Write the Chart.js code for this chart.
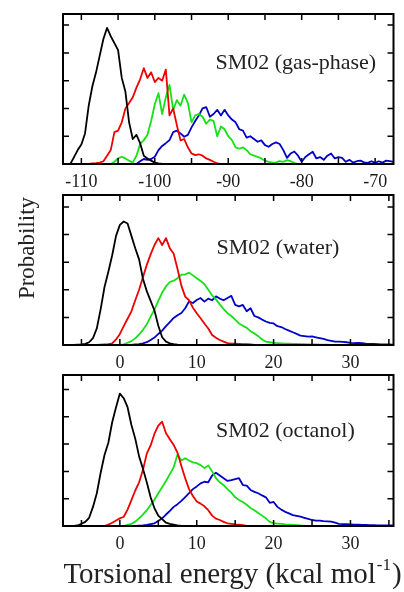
<!DOCTYPE html>
<html><head><meta charset="utf-8">
<script src="https://cdn.jsdelivr.net/npm/chart.js@4.4.1/dist/chart.umd.min.js"></script>
<style>
html,body{margin:0;padding:0;background:#fff;}
#wrap{position:relative;width:404px;height:592px;overflow:hidden;background:#fff;}
canvas{position:absolute;left:0;top:0;}
</style></head><body>
<div id="wrap">
<canvas id="c1" width="404" height="592"></canvas>
<canvas id="c2" width="404" height="592"></canvas>
<canvas id="c3" width="404" height="592"></canvas>
</div>
<script>
const N = null;
// ---------- Panel 1: SM02 (gas-phase) ----------
const gasEnergy = [
 -112,-111.5,-111,-110.5,-110,-109.5,-109,-108.5,-108,-107.5,
 -107,-106.5,-106,-105.5,-105,-104.5,-104,-103.5,-103,-102.5,
 -102,-101.5,-101,-100.5,-100,-99.5,-99,-98.5,-98,-97.5,
 -97,-96.5,-96,-95.5,-95,-94.5,-94,-93.5,-93,-92.5,
 -92,-91.5,-91,-90.5,-90,-89.5,-89,-88.5,-88,-87.5,
 -87,-86.5,-86,-85.5,-85,-84.5,-84,-83.5,-83,-82.5,
 -82,-81.5,-81,-80.5,-80,-79.5,-79,-78.5,-78,-77.5,
 -77,-76.5,-76,-75.5,-75,-74.5,-74,-73.5,-73,-72.5,
 -72,-71.5,-71,-70.5,-70,-69.5,-69,-68.5,-68,-67.5];
const gasBlack = [
 N,0,0.25,0.5,0.7,1.1,2.1,2.8,3.3,3.9,
 4.5,4.9,4.6,4.35,4.1,3.1,2.6,1.5,0.9,1.05,
 0.75,0.3,0.2,0.12,0.05,0.02,0,N,N,N,
 N,N,N,N,N,N,N,N,N,N,
 N,N,N,N,N,N,N,N,N,N,
 N,N,N,N,N,N,N,N,N,N,
 N,N,N,N,N,N,N,N,N,N,
 N,N,N,N,N,N,N,N,N,N,
 N,N,N,N,N,N,N,N,N,N];
const gasRed = [
 N,N,N,N,N,0,0,0.02,0.03,0.05,
 0.1,0.3,0.5,1.15,1.2,1.5,2.0,2.2,2.4,2.75,
 3.05,3.45,3.1,3.3,2.95,3.1,3.0,3.4,1.75,2.0,
 1.4,0.85,0.9,0.6,0.38,0.32,0.35,0.3,0.2,0.15,
 0.08,0.02,0,N,N,N,N,N,N,N,
 N,N,N,N,N,N,N,N,N,N,
 N,N,N,N,N,N,N,N,N,N,
 N,N,N,N,N,N,N,N,N,N,
 N,N,N,N,N,N,N,N,N,N];
const gasGreen = [
 N,N,N,N,N,N,N,N,N,N,
 N,N,0,0.08,0.2,0.26,0.2,0.12,0.05,0.3,
 0.72,0.86,1.05,1.55,2.15,2.55,1.8,2.4,2.85,1.95,
 2.3,2.1,2.5,2.2,1.5,1.75,1.8,1.7,1.45,1.6,
 1.55,1.0,1.35,1.25,1.0,0.86,0.6,0.55,0.6,0.5,
 0.35,0.3,0.26,0.2,0.12,0.08,0.05,0.06,0.1,0.08,
 0.14,0.1,0.04,0,N,N,N,N,N,N,
 N,N,N,N,N,N,N,N,N,N,
 N,N,N,N,N,N,N,N,N,N];
const gasBlue = [
 N,N,N,N,N,N,N,N,N,N,
 N,N,N,N,N,N,N,N,N,0,
 0.1,0.18,0.15,0.18,0.26,0.5,0.65,0.75,0.86,1.15,
 1.2,1.1,0.98,1.05,1.32,1.55,1.75,2.0,2.05,1.7,
 1.8,1.95,1.75,1.95,1.75,1.6,1.5,1.25,1.2,0.95,
 1.0,0.9,0.8,0.85,0.68,0.62,0.72,0.78,0.72,0.5,
 0.22,0.38,0.45,0.3,0.08,0.25,0.35,0.44,0.2,0.25,
 0.15,0.3,0.38,0.2,0.25,0.22,0.08,0.15,0.05,0.1,
 0.12,0.06,0.04,0.1,0.04,0.1,0.05,0.12,0.1,0.08];

// ---------- Panels 2 and 3: SM02 (water), SM02 (octanol) ----------
const solvEnergy = [
 -7,-6.5,-6,-5.5,-5,-4.5,-4,-3.5,-3,-2.5,
 -2,-1.5,-1,-0.5,0,0.5,1,1.5,2,2.5,
 3,3.5,4,4.5,5,5.5,6,6.5,7,7.5,
 8,8.5,9,9.5,10,10.5,11,11.5,12,12.5,
 13,13.5,14,14.5,15,15.5,16,16.5,17,17.5,
 18,18.5,19,19.5,20,20.5,21,21.5,22,22.5,
 23,23.5,24,24.5,25,25.5,26,26.5,27,27.5,
 28,28.5,29,29.5,30,30.5,31,31.5,32,32.5,
 33,33.5,34,34.5,35,35.5];
const waterBlack = [
 N,N,0,0.01,0.02,0.04,0.1,0.25,0.6,1.3,
 2.1,2.65,3.25,3.95,4.35,4.47,4.4,3.95,3.5,3.1,
 2.4,1.95,1.6,1.25,0.7,0.28,0.12,0.06,0.03,0.01,
 0,N,N,N,N,N,N,N,N,N,
 N,N,N,N,N,N,N,N,N,N,
 N,N,N,N,N,N,N,N,N,N,
 N,N,N,N,N,N,N,N,N,N,
 N,N,N,N,N,N,N,N,N,N,
 N,N,N,N,N,N];
const waterRed = [
 N,N,N,N,N,N,N,N,0,0.01,
 0.02,0.03,0.06,0.2,0.4,0.68,0.95,1.22,1.62,2.0,
 2.45,2.9,3.28,3.62,3.87,3.62,3.87,3.5,3.3,2.75,
 2.15,1.75,1.62,1.35,1.15,0.97,0.78,0.6,0.36,0.26,
 0.18,0.12,0.07,0.05,0.05,0.04,0.03,0.03,0.02,0,
 N,N,N,N,N,N,N,N,N,N,
 N,N,N,N,N,N,N,N,N,N,
 N,N,N,N,N,N,N,N,N,N,
 N,N,N,N,N,N];
const waterGreen = [
 N,N,N,N,N,N,N,N,N,N,
 N,N,N,N,0,0.02,0.08,0.14,0.24,0.38,
 0.55,0.75,1.03,1.28,1.6,1.9,2.12,2.28,2.33,2.42,
 2.55,2.55,2.62,2.52,2.42,2.32,2.2,2.0,1.8,1.65,
 1.47,1.3,1.15,1.05,0.92,0.78,0.7,0.62,0.5,0.42,
 0.32,0.2,0.12,0.1,0.08,0.07,0.06,0.05,0.05,0.04,
 0.04,0.03,0.03,0.02,0.02,0.02,0.01,0.01,0.01,0,
 N,N,N,N,N,N,N,N,N,N,
 N,N,N,N,N,N];
const waterBlue = [
 N,N,N,N,N,N,N,N,N,N,
 N,N,N,N,N,N,N,0,0.02,0.03,
 0.06,0.1,0.18,0.27,0.4,0.52,0.68,0.83,0.98,1.08,
 1.16,1.33,1.58,1.52,1.63,1.7,1.57,1.68,1.62,1.76,
 1.68,1.62,1.7,1.78,1.45,1.4,1.45,1.22,1.33,1.05,
 1.0,0.92,0.85,0.8,0.78,0.68,0.65,0.58,0.52,0.46,
 0.4,0.34,0.32,0.3,0.31,0.28,0.25,0.22,0.18,0.15,
 0.12,0.12,0.11,0.1,0.08,0.07,0.08,0.07,0.05,0.04,
 0.04,0.03,0.02,0.02,0.02,0.01];
const octBlack = [
 N,N,0,0.02,0.08,0.15,0.3,0.7,1.2,1.95,
 2.6,3.05,3.8,4.35,4.85,4.68,4.35,3.7,3.2,2.55,
 2.1,1.6,1.05,0.65,0.38,0.25,0.12,0.08,0.05,0.02,
 0,N,N,N,N,N,N,N,N,N,
 N,N,N,N,N,N,N,N,N,N,
 N,N,N,N,N,N,N,N,N,N,
 N,N,N,N,N,N,N,N,N,N,
 N,N,N,N,N,N,N,N,N,N,
 N,N,N,N,N,N];
const octRed = [
 N,N,N,N,N,N,N,N,N,N,
 0,0.05,0.12,0.2,0.28,0.34,0.6,0.95,1.3,1.6,
 2.05,2.65,2.95,3.38,3.68,3.82,3.4,3.18,2.97,2.68,
 2.2,1.75,1.35,1.1,0.9,0.82,0.72,0.58,0.38,0.27,
 0.22,0.15,0.1,0.08,0.06,0.05,0.03,0,N,N,
 N,N,N,N,N,N,N,N,N,N,
 N,N,N,N,N,N,N,N,N,N,
 N,N,N,N,N,N,N,N,N,N,
 N,N,N,N,N,N];
const octGreen = [
 N,N,N,N,N,N,N,N,N,N,
 N,N,N,N,N,0,0.04,0.08,0.16,0.28,
 0.42,0.58,0.77,0.96,1.2,1.42,1.65,1.9,2.15,2.62,
 2.4,2.48,2.4,2.33,2.3,2.23,2.12,2.22,2.0,1.75,
 1.6,1.5,1.35,1.22,1.05,0.95,0.88,0.78,0.66,0.58,
 0.48,0.38,0.28,0.15,0.1,0.09,0.08,0.06,0.05,0.04,
 0.03,0.02,0,N,N,N,N,N,N,N,
 N,N,N,N,N,N,N,N,N,N,
 N,N,N,N,N,N];
const octBlue = [
 N,N,N,N,N,N,N,N,N,N,
 N,N,N,N,N,N,N,N,0,0.01,
 0.02,0.04,0.07,0.1,0.18,0.28,0.42,0.55,0.7,0.8,
 0.92,1.06,1.2,1.35,1.45,1.56,1.62,1.6,1.85,1.95,
 1.85,1.75,1.65,1.68,1.72,1.75,1.5,1.48,1.32,1.25,
 1.2,1.12,1.05,0.85,0.88,0.7,0.6,0.52,0.46,0.4,
 0.37,0.34,0.3,0.26,0.22,0.2,0.2,0.18,0.17,0.16,
 0.12,0.08,0.07,0.07,0.06,0.05,0.05,0.04,0.04,0.03,
 0.03,0.02,0.02,0.02,0.02,0.02];

// ---------- Ticks and labels ----------
const gasTicks = [-110,-105,-100,-95,-90,-85,-80,-75,-70];
const gasTickLabels = ['-110','','-100','','-90','','-80','','-70'];
const solvTicks = [-5,0,5,10,15,20,25,30,35];
const solvTickLabels = ['','0','','10','','20','','30',''];
const probTicks = [1,2,3,4,5];
const panelNames = ['SM02 (gas-phase)','SM02 (water)','SM02 (octanol)'];
const yTitle = 'Probability';
const xTitleMain = 'Torsional energy (kcal mol';
const xTitleSup = '-1';
const xTitleEnd = ')';

// ---------- Drawing ----------
const SERIF = "'Liberation Serif','Times New Roman',serif";
const COL = {black:'#000000', red:'#ee0000', green:'#16e016', blue:'#0000c8'};

function framePlugin(cfg){
  return {
    id: 'frame' + cfg.key,
    afterDraw(chart){
      const ctx = chart.ctx, a = chart.chartArea, x = chart.scales.x, y = chart.scales.y;
      ctx.save();
      ctx.strokeStyle = '#000';
      ctx.lineWidth = 1.5;
      ctx.beginPath();
      cfg.xTicks.forEach(v => {
        const px = x.getPixelForValue(v);
        ctx.moveTo(px, a.bottom); ctx.lineTo(px, a.bottom - 6);
        ctx.moveTo(px, a.top); ctx.lineTo(px, a.top + 6);
      });
      probTicks.forEach(v => {
        const py = y.getPixelForValue(v);
        ctx.moveTo(a.left, py); ctx.lineTo(a.left + 6, py);
        ctx.moveTo(a.right, py); ctx.lineTo(a.right - 6, py);
      });
      ctx.stroke();
      ctx.lineWidth = 2;
      ctx.strokeRect(a.left, a.top, a.right - a.left, a.bottom - a.top);
      ctx.fillStyle = '#222';
      ctx.font = '22px ' + SERIF;
      ctx.textAlign = 'left';
      ctx.textBaseline = 'alphabetic';
      ctx.fillText(cfg.label, a.left + cfg.labelDx, a.top + cfg.labelDy);
      if (cfg.extra) cfg.extra(ctx, a);
      ctx.restore();
    }
  };
}

function makeChart(id, xs, series, cfg){
  const datasets = series.map(s => ({
    data: xs.map((xv, i) => ({x: xv, y: s.values[i] === undefined ? null : s.values[i]})),
    borderColor: s.color, borderWidth: 1.8, pointRadius: 0, fill: false,
    tension: 0, spanGaps: false, borderJoinStyle: 'round'
  }));
  return new Chart(document.getElementById(id), {
    type: 'line',
    data: {datasets},
    options: {
      responsive: false, animation: false, events: [],
      layout: {padding: {top: cfg.top, left: 63, right: 10.5, bottom: 592 - cfg.bottom - 30}},
      plugins: {legend: {display: false}, tooltip: {enabled: false}, title: {display: false}},
      scales: {
        x: {
          type: 'linear', min: cfg.xMin, max: cfg.xMax,
          afterBuildTicks: sc => { sc.ticks = cfg.xTicks.map(v => ({value: v})); },
          afterFit: sc => { sc.height = 30; },
          grid: {display: false, drawTicks: false},
          border: {display: false},
          ticks: {
            autoSkip: false, maxRotation: 0, minRotation: 0, padding: 7, color: '#1a1a1a',
            font: {family: SERIF, size: 18},
            callback: (v, i) => cfg.xLabels[i]
          }
        },
        y: {type: 'linear', display: false, min: 0, max: cfg.yMax}
      }
    },
    plugins: [framePlugin(cfg)]
  });
}

makeChart('c1', gasEnergy, [
  {values: gasBlack, color: COL.black},
  {values: gasRed, color: COL.red},
  {values: gasGreen, color: COL.green},
  {values: gasBlue, color: COL.blue}
], {key: 1, top: 14, bottom: 164, xMin: -112.5, xMax: -67.5, yMax: 5.4,
    xTicks: gasTicks, xLabels: gasTickLabels, label: panelNames[0], labelDx: 152.5, labelDy: 54.5});

makeChart('c2', solvEnergy, [
  {values: waterBlack, color: COL.black},
  {values: waterRed, color: COL.red},
  {values: waterGreen, color: COL.green},
  {values: waterBlue, color: COL.blue}
], {key: 2, top: 195, bottom: 345, xMin: -7.4, xMax: 35.6, yMax: 5.43,
    xTicks: solvTicks, xLabels: solvTickLabels, label: panelNames[1], labelDx: 153.5, labelDy: 58.5,
    extra: (ctx) => {
      ctx.save();
      ctx.translate(28, 248);
      ctx.rotate(-Math.PI / 2);
      ctx.font = '23px ' + SERIF;
      ctx.fillStyle = '#222';
      ctx.textAlign = 'center';
      ctx.textBaseline = 'middle';
      ctx.fillText(yTitle, 0, 0);
      ctx.restore();
    }});

makeChart('c3', solvEnergy, [
  {values: octBlack, color: COL.black},
  {values: octRed, color: COL.red},
  {values: octGreen, color: COL.green},
  {values: octBlue, color: COL.blue}
], {key: 3, top: 375, bottom: 526, xMin: -7.4, xMax: 35.6, yMax: 5.53,
    xTicks: solvTicks, xLabels: solvTickLabels, label: panelNames[2], labelDx: 153, labelDy: 62,
    extra: (ctx) => {
      ctx.save();
      ctx.fillStyle = '#222';
      ctx.textBaseline = 'alphabetic';
      ctx.textAlign = 'left';
      const big = '29px ' + SERIF, small = '17px ' + SERIF;
      ctx.font = big; const w1 = ctx.measureText(xTitleMain).width; const w3 = ctx.measureText(xTitleEnd).width;
      ctx.font = small; const w2 = ctx.measureText(xTitleSup).width;
      const total = w1 + w2 + w3 + 2;
      let sx = 232.5 - total / 2;
      const base = 583;
      ctx.font = big; ctx.fillText(xTitleMain, sx, base); sx += w1 + 1;
      ctx.font = small; ctx.fillText(xTitleSup, sx, base - 13); sx += w2 + 1;
      ctx.font = big; ctx.fillText(xTitleEnd, sx, base);
      ctx.restore();
    }});
</script></body></html>
